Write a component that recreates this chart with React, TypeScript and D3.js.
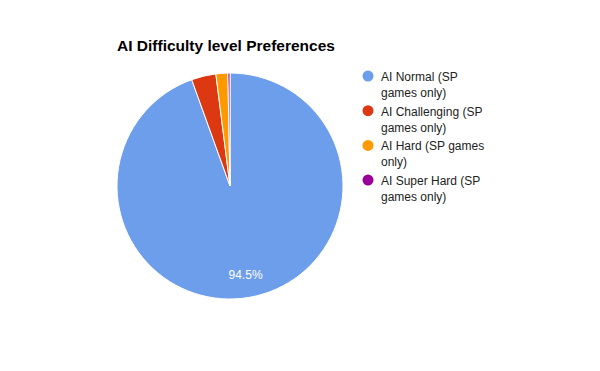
import React, { useEffect, useRef } from 'react'
import * as d3 from 'd3'

const categories = [
  'AI Normal (SP games only)',
  'AI Challenging (SP games only)',
  'AI Hard (SP games only)',
  'AI Super Hard (SP games only)',
]
const legendLines = [
  ['AI Normal (SP', 'games only)'],
  ['AI Challenging (SP', 'games only)'],
  ['AI Hard (SP games', 'only)'],
  ['AI Super Hard (SP', 'games only)'],
]
const values = [94.5, 3.5, 1.7, 0.3]
const colors = ['#6d9eeb', '#dc3912', '#ff9900', '#990099']

export default function App() {
  const ref = useRef<SVGSVGElement>(null)

  useEffect(() => {
    const svg = d3.select(ref.current)
    svg.selectAll('*').remove()

    const width = 600
    const height = 371
    const cx = 230
    const cy = 186
    const r = 113

    svg.append('rect').attr('width', width).attr('height', height).attr('fill', '#fff')

    svg
      .append('text')
      .attr('x', 117)
      .attr('y', 51)
      .attr('font-family', 'Liberation Sans, Arial, sans-serif')
      .attr('font-weight', 'bold')
      .attr('font-size', 15.5)
      .attr('fill', '#000')
      .text('AI Difficulty level Preferences')

    // google style: clockwise from 12 o'clock
    const pie = d3
      .pie<number>()
      .sort(null)
      .value(d => d)

    const arcs = pie(values)
    const arc = d3.arc<d3.PieArcDatum<number>>().innerRadius(0).outerRadius(r)

    const g = svg.append('g').attr('transform', `translate(${cx},${cy})`)

    g.selectAll('path')
      .data(arcs)
      .enter()
      .append('path')
      .attr('d', arc)
      .attr('fill', (d, i) => colors[i])
      .attr('stroke', '#fff')
      .attr('stroke-width', 1)

    const labelArc = d3.arc<d3.PieArcDatum<number>>().innerRadius(r * 0.8).outerRadius(r * 0.8)
    const total = d3.sum(values)
    g.selectAll('text.pct')
      .data(arcs.filter(d => d.data / total > 0.05))
      .enter()
      .append('text')
      .attr('class', 'pct')
      .attr('transform', d => `translate(${labelArc.centroid(d)})`)
      .attr('text-anchor', 'middle')
      .attr('dy', '0.35em')
      .attr('font-family', 'Liberation Sans, Arial, sans-serif')
      .attr('font-size', 12)
      .attr('fill', '#fff')
      .text(d => `${((d.data / total) * 100).toFixed(1)}%`)

    const legend = svg
      .selectAll('g.legend')
      .data(categories)
      .enter()
      .append('g')
      .attr('class', 'legend')
      .attr('transform', (d, i) => `translate(368,${77 + i * 34.7})`)

    legend
      .append('circle')
      .attr('r', 5.5)
      .attr('cx', 0)
      .attr('cy', -1)
      .attr('fill', (d, i) => colors[i])

    legend.each(function (d, i) {
      const t = d3
        .select(this)
        .append('text')
        .attr('font-family', 'Liberation Sans, Arial, sans-serif')
        .attr('font-size', 12)
        .attr('fill', '#222')
      legendLines[i].forEach((line, j) => {
        t.append('tspan')
          .attr('x', 13)
          .attr('y', 4 + j * 16)
          .text(line)
      })
    })
  }, [])

  return (
    <svg
      ref={ref}
      width={600}
      height={371}
      style={{ position: 'absolute', left: 0, top: 0 }}
    />
  )
}
